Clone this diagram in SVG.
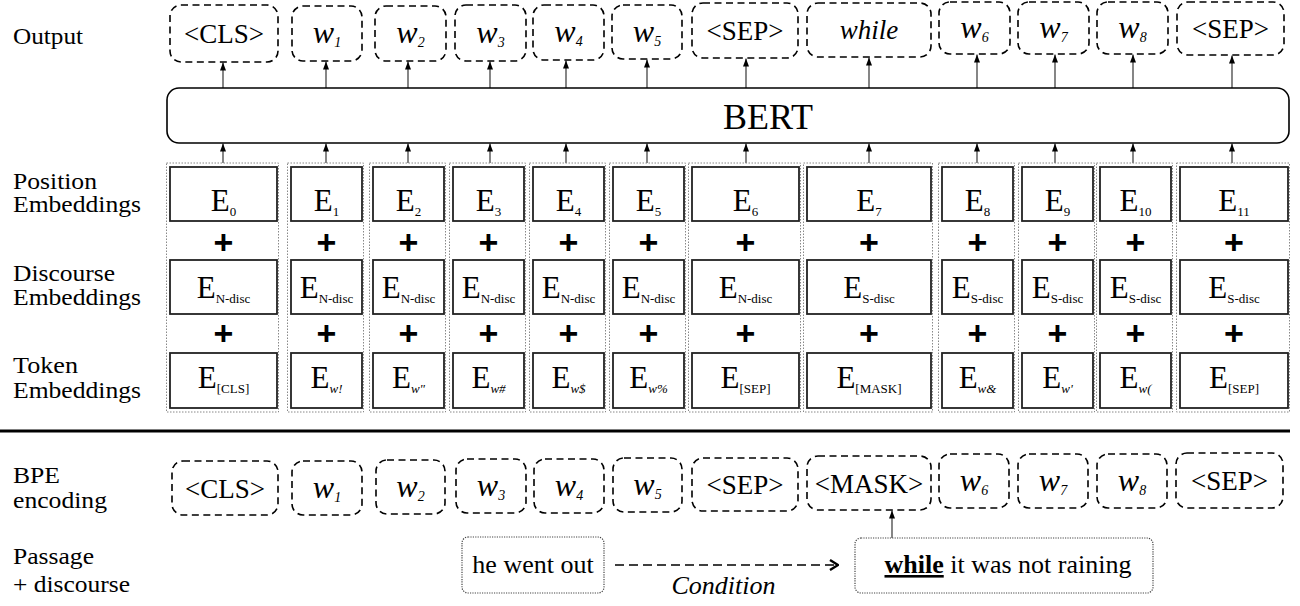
<svg xmlns="http://www.w3.org/2000/svg" width="1300" height="606" viewBox="0 0 1300 606" font-family="'Liberation Serif', 'Noto Serif', 'DejaVu Serif', serif">
<defs>
<style>
text{font-family:'Liberation Serif','Noto Serif','DejaVu Serif',serif;fill:#000}
.lbl{font-size:23px}
.tok{font-size:27px;text-anchor:middle}
.w{font-size:32px;font-style:italic;text-anchor:middle}
.ws{font-size:14px;font-style:italic}
.e{font-size:31px;text-anchor:middle}
.es{font-size:13px}
.esi{font-size:13px;font-style:italic}
.plus{font-family:'Liberation Sans',Arial,sans-serif;font-weight:bold;font-size:34px;text-anchor:middle}
.dash{fill:#fff;stroke:#000;stroke-width:1.6;stroke-dasharray:7,4.5}
.emb{fill:#fff;stroke:#222;stroke-width:1.8}
.col{fill:none;stroke:#888;stroke-width:1;stroke-dasharray:1.5,1.5}
.dot{fill:#fff;stroke:#444;stroke-width:1.2;stroke-dasharray:1.2,1.2}
.ar{stroke:#222;stroke-width:1.1;fill:none;marker-end:url(#ah)}
</style>
<marker id="ah" viewBox="0 0 8 6" refX="8" refY="3" markerWidth="8" markerHeight="6" markerUnits="userSpaceOnUse" orient="auto"><path d="M0,0 L8,3 L0,6 z" fill="#000"/></marker>
<marker id="chev" viewBox="0 0 10 12" refX="9" refY="6" markerWidth="10" markerHeight="12" markerUnits="userSpaceOnUse" orient="auto"><path d="M1,1 L9,6 L1,11" fill="none" stroke="#000" stroke-width="2.4"/></marker>
</defs>
<rect width="1300" height="606" fill="#fff"/>

<g id="labels">
<text class="lbl" x="13" y="44" textLength="70" lengthAdjust="spacingAndGlyphs">Output</text>
<text class="lbl" x="13" y="189" textLength="84" lengthAdjust="spacingAndGlyphs">Position</text>
<text class="lbl" x="13" y="212" textLength="128" lengthAdjust="spacingAndGlyphs">Embeddings</text>
<text class="lbl" x="13" y="281" textLength="102" lengthAdjust="spacingAndGlyphs">Discourse</text>
<text class="lbl" x="13" y="305" textLength="128" lengthAdjust="spacingAndGlyphs">Embeddings</text>
<text class="lbl" x="13" y="373" textLength="65" lengthAdjust="spacingAndGlyphs">Token</text>
<text class="lbl" x="13" y="398" textLength="128" lengthAdjust="spacingAndGlyphs">Embeddings</text>
<text class="lbl" x="13" y="483" textLength="47" lengthAdjust="spacingAndGlyphs">BPE</text>
<text class="lbl" x="13" y="508" textLength="94" lengthAdjust="spacingAndGlyphs">encoding</text>
<text class="lbl" x="13" y="564" textLength="81" lengthAdjust="spacingAndGlyphs">Passage</text>
<text class="lbl" x="13" y="592" textLength="117" lengthAdjust="spacingAndGlyphs">+ discourse</text>
</g>

<g id="connectors">
<line class="ar" x1="223" y1="88" x2="223" y2="62.5"/>
<line class="ar" x1="326" y1="88" x2="326" y2="61.5"/>
<line class="ar" x1="408" y1="88" x2="408" y2="61.5"/>
<line class="ar" x1="490" y1="88" x2="490" y2="61.5"/>
<line class="ar" x1="566" y1="88" x2="566" y2="60.5"/>
<line class="ar" x1="647" y1="88" x2="647" y2="59.5"/>
<line class="ar" x1="746" y1="88" x2="746" y2="58.5"/>
<line class="ar" x1="869" y1="88" x2="869" y2="57.5"/>
<line class="ar" x1="977" y1="88" x2="977" y2="54.5"/>
<line class="ar" x1="1055" y1="88" x2="1055" y2="54.5"/>
<line class="ar" x1="1133" y1="88" x2="1133" y2="54.5"/>
<line class="ar" x1="1232" y1="88" x2="1232" y2="55.5"/>
<line class="ar" x1="223" y1="163" x2="223" y2="143.5"/>
<line class="ar" x1="326" y1="163" x2="326" y2="143.5"/>
<line class="ar" x1="408" y1="163" x2="408" y2="143.5"/>
<line class="ar" x1="490" y1="163" x2="490" y2="143.5"/>
<line class="ar" x1="566" y1="163" x2="566" y2="143.5"/>
<line class="ar" x1="647" y1="163" x2="647" y2="143.5"/>
<line class="ar" x1="746" y1="163" x2="746" y2="143.5"/>
<line class="ar" x1="869" y1="163" x2="869" y2="143.5"/>
<line class="ar" x1="977" y1="163" x2="977" y2="143.5"/>
<line class="ar" x1="1055" y1="163" x2="1055" y2="143.5"/>
<line class="ar" x1="1133" y1="163" x2="1133" y2="143.5"/>
<line class="ar" x1="1232" y1="163" x2="1232" y2="143.5"/>
<line class="ar" x1="892" y1="538" x2="892" y2="510.5"/>
<line x1="615" y1="565" x2="838" y2="565" stroke="#000" stroke-width="1.6" stroke-dasharray="9,5" marker-end="url(#chev)"/>
</g>

<g id="output">
<g id="out-cls"><rect class="dash" x="170" y="5" width="108" height="57" rx="11"/><text class="tok" x="224" y="43">&lt;CLS&gt;</text></g>
<g id="out-w1"><rect class="dash" x="292" y="6" width="70" height="55" rx="11"/><text class="w" x="327" y="43">w<tspan class="ws" dy="4">1</tspan></text></g>
<g id="out-w2"><rect class="dash" x="375" y="6" width="71" height="55" rx="11"/><text class="w" x="410.5" y="43">w<tspan class="ws" dy="4">2</tspan></text></g>
<g id="out-w3"><rect class="dash" x="455" y="5" width="71" height="56" rx="11"/><text class="w" x="490.5" y="42.5">w<tspan class="ws" dy="4">3</tspan></text></g>
<g id="out-w4"><rect class="dash" x="533" y="5" width="71" height="55" rx="11"/><text class="w" x="568.5" y="42">w<tspan class="ws" dy="4">4</tspan></text></g>
<g id="out-w5"><rect class="dash" x="612" y="5" width="70" height="54" rx="11"/><text class="w" x="647" y="41.5">w<tspan class="ws" dy="4">5</tspan></text></g>
<g id="out-sep1"><rect class="dash" x="692" y="3" width="106" height="55" rx="11"/><text class="tok" x="745" y="40">&lt;SEP&gt;</text></g>
<g id="out-while"><rect class="dash" x="807" y="3" width="124" height="54" rx="11"/><text class="tok" x="869" y="39" font-style="italic">while</text></g>
<g id="out-w6"><rect class="dash" x="939" y="2" width="71" height="52" rx="11"/><text class="w" x="974.5" y="37.5">w<tspan class="ws" dy="4">6</tspan></text></g>
<g id="out-w7"><rect class="dash" x="1018" y="2" width="71" height="52" rx="11"/><text class="w" x="1053.5" y="37.5">w<tspan class="ws" dy="4">7</tspan></text></g>
<g id="out-w8"><rect class="dash" x="1097" y="2" width="71" height="52" rx="11"/><text class="w" x="1132.5" y="37.5">w<tspan class="ws" dy="4">8</tspan></text></g>
<g id="out-sep2"><rect class="dash" x="1177" y="2" width="107" height="53" rx="11"/><text class="tok" x="1230.5" y="38">&lt;SEP&gt;</text></g>
</g>

<g id="bert">
<rect x="167" y="88" width="1122" height="55" rx="12" fill="#fff" stroke="#000" stroke-width="1.6"/>
<text x="768" y="129" font-size="36" text-anchor="middle">BERT</text>
</g>

<g id="embeddings">
<g id="col0"><rect class="col" x="166.5" y="163" width="112" height="249"/>
<rect class="emb" x="170" y="167" width="107" height="54"/><text class="e" x="223.5" y="211">E<tspan class="es" dy="5">0</tspan></text>
<text class="plus" x="223.5" y="254">+</text>
<rect class="emb" x="170" y="260" width="107" height="54"/><text class="e" x="223.5" y="298">E<tspan class="es" dy="5">N-disc</tspan></text>
<text class="plus" x="223.5" y="345">+</text>
<rect class="emb" x="170" y="353" width="107" height="55"/><text class="e" x="223.5" y="388">E<tspan class="es" dy="5">[CLS]</tspan></text></g>

<g id="col1"><rect class="col" x="287.5" y="163" width="76" height="249"/>
<rect class="emb" x="291" y="167" width="71" height="54"/><text class="e" x="326.5" y="211">E<tspan class="es" dy="5">1</tspan></text>
<text class="plus" x="326.5" y="254">+</text>
<rect class="emb" x="291" y="260" width="71" height="54"/><text class="e" x="326.5" y="298">E<tspan class="es" dy="5">N-disc</tspan></text>
<text class="plus" x="326.5" y="345">+</text>
<rect class="emb" x="291" y="353" width="71" height="55"/><text class="e" x="326.5" y="388">E<tspan class="esi" dy="5">w!</tspan></text></g>

<g id="col2"><rect class="col" x="369.5" y="163" width="76" height="249"/>
<rect class="emb" x="373" y="167" width="71" height="54"/><text class="e" x="408.5" y="211">E<tspan class="es" dy="5">2</tspan></text>
<text class="plus" x="408.5" y="254">+</text>
<rect class="emb" x="373" y="260" width="71" height="54"/><text class="e" x="408.5" y="298">E<tspan class="es" dy="5">N-disc</tspan></text>
<text class="plus" x="408.5" y="345">+</text>
<rect class="emb" x="373" y="353" width="71" height="55"/><text class="e" x="408.5" y="388">E<tspan class="esi" dy="5">w"</tspan></text></g>

<g id="col3"><rect class="col" x="449.5" y="163" width="76" height="249"/>
<rect class="emb" x="453" y="167" width="71" height="54"/><text class="e" x="488.5" y="211">E<tspan class="es" dy="5">3</tspan></text>
<text class="plus" x="488.5" y="254">+</text>
<rect class="emb" x="453" y="260" width="71" height="54"/><text class="e" x="488.5" y="298">E<tspan class="es" dy="5">N-disc</tspan></text>
<text class="plus" x="488.5" y="345">+</text>
<rect class="emb" x="453" y="353" width="71" height="55"/><text class="e" x="488.5" y="388">E<tspan class="esi" dy="5">w#</tspan></text></g>

<g id="col4"><rect class="col" x="529.5" y="163" width="76" height="249"/>
<rect class="emb" x="533" y="167" width="71" height="54"/><text class="e" x="568.5" y="211">E<tspan class="es" dy="5">4</tspan></text>
<text class="plus" x="568.5" y="254">+</text>
<rect class="emb" x="533" y="260" width="71" height="54"/><text class="e" x="568.5" y="298">E<tspan class="es" dy="5">N-disc</tspan></text>
<text class="plus" x="568.5" y="345">+</text>
<rect class="emb" x="533" y="353" width="71" height="55"/><text class="e" x="568.5" y="388">E<tspan class="esi" dy="5">w$</tspan></text></g>

<g id="col5"><rect class="col" x="609.5" y="163" width="76" height="249"/>
<rect class="emb" x="613" y="167" width="71" height="54"/><text class="e" x="648.5" y="211">E<tspan class="es" dy="5">5</tspan></text>
<text class="plus" x="648.5" y="254">+</text>
<rect class="emb" x="613" y="260" width="71" height="54"/><text class="e" x="648.5" y="298">E<tspan class="es" dy="5">N-disc</tspan></text>
<text class="plus" x="648.5" y="345">+</text>
<rect class="emb" x="613" y="353" width="71" height="55"/><text class="e" x="648.5" y="388">E<tspan class="esi" dy="5">w%</tspan></text></g>

<g id="col6"><rect class="col" x="688.5" y="163" width="112" height="249"/>
<rect class="emb" x="692" y="167" width="107" height="54"/><text class="e" x="745.5" y="211">E<tspan class="es" dy="5">6</tspan></text>
<text class="plus" x="745.5" y="254">+</text>
<rect class="emb" x="692" y="260" width="107" height="54"/><text class="e" x="745.5" y="298">E<tspan class="es" dy="5">N-disc</tspan></text>
<text class="plus" x="745.5" y="345">+</text>
<rect class="emb" x="692" y="353" width="107" height="55"/><text class="e" x="745.5" y="388">E<tspan class="es" dy="5">[SEP]</tspan></text></g>

<g id="col7"><rect class="col" x="803.5" y="163" width="129" height="249"/>
<rect class="emb" x="807" y="167" width="124" height="54"/><text class="e" x="869" y="211">E<tspan class="es" dy="5">7</tspan></text>
<text class="plus" x="869" y="254">+</text>
<rect class="emb" x="807" y="260" width="124" height="54"/><text class="e" x="869" y="298">E<tspan class="es" dy="5">S-disc</tspan></text>
<text class="plus" x="869" y="345">+</text>
<rect class="emb" x="807" y="353" width="124" height="55"/><text class="e" x="869" y="388">E<tspan class="es" dy="5">[MASK]</tspan></text></g>

<g id="col8"><rect class="col" x="938.5" y="163" width="76" height="249"/>
<rect class="emb" x="942" y="167" width="71" height="54"/><text class="e" x="977.5" y="211">E<tspan class="es" dy="5">8</tspan></text>
<text class="plus" x="977.5" y="254">+</text>
<rect class="emb" x="942" y="260" width="71" height="54"/><text class="e" x="977.5" y="298">E<tspan class="es" dy="5">S-disc</tspan></text>
<text class="plus" x="977.5" y="345">+</text>
<rect class="emb" x="942" y="353" width="71" height="55"/><text class="e" x="977.5" y="388">E<tspan class="esi" dy="5">w&amp;</tspan></text></g>

<g id="col9"><rect class="col" x="1018.5" y="163" width="76" height="249"/>
<rect class="emb" x="1022" y="167" width="71" height="54"/><text class="e" x="1057.5" y="211">E<tspan class="es" dy="5">9</tspan></text>
<text class="plus" x="1057.5" y="254">+</text>
<rect class="emb" x="1022" y="260" width="71" height="54"/><text class="e" x="1057.5" y="298">E<tspan class="es" dy="5">S-disc</tspan></text>
<text class="plus" x="1057.5" y="345">+</text>
<rect class="emb" x="1022" y="353" width="71" height="55"/><text class="e" x="1057.5" y="388">E<tspan class="esi" dy="5">w'</tspan></text></g>

<g id="col10"><rect class="col" x="1096.5" y="163" width="76" height="249"/>
<rect class="emb" x="1100" y="167" width="71" height="54"/><text class="e" x="1135.5" y="211">E<tspan class="es" dy="5">10</tspan></text>
<text class="plus" x="1135.5" y="254">+</text>
<rect class="emb" x="1100" y="260" width="71" height="54"/><text class="e" x="1135.5" y="298">E<tspan class="es" dy="5">S-disc</tspan></text>
<text class="plus" x="1135.5" y="345">+</text>
<rect class="emb" x="1100" y="353" width="71" height="55"/><text class="e" x="1135.5" y="388">E<tspan class="esi" dy="5">w(</tspan></text></g>

<g id="col11"><rect class="col" x="1176.5" y="163" width="113" height="249"/>
<rect class="emb" x="1180" y="167" width="108" height="54"/><text class="e" x="1234" y="211">E<tspan class="es" dy="5">11</tspan></text>
<text class="plus" x="1234" y="254">+</text>
<rect class="emb" x="1180" y="260" width="108" height="54"/><text class="e" x="1234" y="298">E<tspan class="es" dy="5">S-disc</tspan></text>
<text class="plus" x="1234" y="345">+</text>
<rect class="emb" x="1180" y="353" width="108" height="55"/><text class="e" x="1234" y="388">E<tspan class="es" dy="5">[SEP]</tspan></text></g>
</g>

<line id="separator" x1="0" y1="431" x2="1290" y2="431" stroke="#000" stroke-width="3"/>

<g id="bpe">
<g id="bpe-cls"><rect class="dash" x="172" y="461" width="106" height="54" rx="11"/><text class="tok" x="225" y="497.5">&lt;CLS&gt;</text></g>
<g id="bpe-w1"><rect class="dash" x="292" y="461" width="70" height="54" rx="11"/><text class="w" x="327" y="497.5">w<tspan class="ws" dy="4">1</tspan></text></g>
<g id="bpe-w2"><rect class="dash" x="376" y="460" width="69" height="54" rx="11"/><text class="w" x="410.5" y="496.5">w<tspan class="ws" dy="4">2</tspan></text></g>
<g id="bpe-w3"><rect class="dash" x="456" y="459" width="70" height="54" rx="11"/><text class="w" x="491" y="495.5">w<tspan class="ws" dy="4">3</tspan></text></g>
<g id="bpe-w4"><rect class="dash" x="534" y="459" width="70" height="54" rx="11"/><text class="w" x="569" y="495.5">w<tspan class="ws" dy="4">4</tspan></text></g>
<g id="bpe-w5"><rect class="dash" x="613" y="458" width="69" height="54" rx="11"/><text class="w" x="647.5" y="494.5">w<tspan class="ws" dy="4">5</tspan></text></g>
<g id="bpe-sep1"><rect class="dash" x="692" y="458" width="106" height="53" rx="11"/><text class="tok" x="745" y="494">&lt;SEP&gt;</text></g>
<g id="bpe-mask"><rect class="dash" x="807" y="456" width="124" height="54" rx="11"/><text class="tok" x="869" y="492.5">&lt;MASK&gt;</text></g>
<g id="bpe-w6"><rect class="dash" x="939" y="454" width="70" height="54" rx="11"/><text class="w" x="974" y="490.5">w<tspan class="ws" dy="4">6</tspan></text></g>
<g id="bpe-w7"><rect class="dash" x="1018" y="454" width="70" height="54" rx="11"/><text class="w" x="1053" y="490.5">w<tspan class="ws" dy="4">7</tspan></text></g>
<g id="bpe-w8"><rect class="dash" x="1097" y="454" width="70" height="54" rx="11"/><text class="w" x="1132" y="490.5">w<tspan class="ws" dy="4">8</tspan></text></g>
<g id="bpe-sep2"><rect class="dash" x="1176" y="453" width="107" height="55" rx="11"/><text class="tok" x="1229.5" y="490">&lt;SEP&gt;</text></g>
</g>

<g id="passage">
<g id="p-hewentout"><rect class="dot" x="462" y="537" width="142" height="56" rx="6"/><text x="533" y="573" font-size="26" text-anchor="middle">he went out</text></g>
<g id="p-while"><rect class="dot" x="855" y="538" width="298" height="55" rx="6"/><text x="1008" y="573" font-size="26" text-anchor="middle"><tspan font-weight="bold" text-decoration="underline">while</tspan> it was not raining</text></g>
<text id="condition" x="723.5" y="594" font-size="26" font-style="italic" text-anchor="middle">Condition</text>
</g>
</svg>
